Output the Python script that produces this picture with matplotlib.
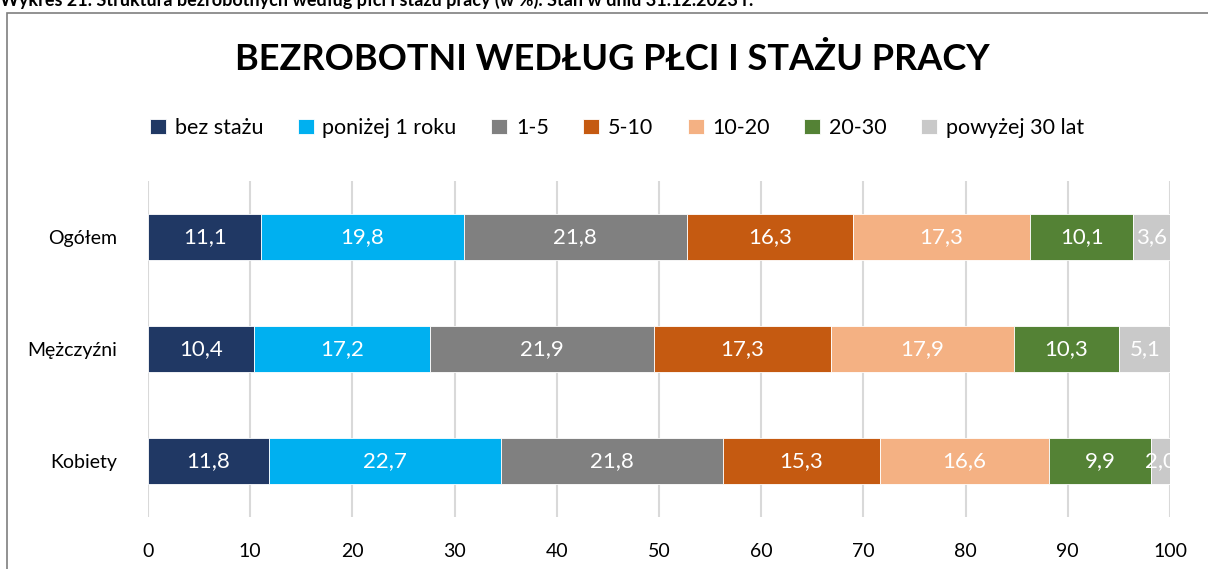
import matplotlib
matplotlib.use("Agg")
import matplotlib.pyplot as plt
from matplotlib.patches import Rectangle
import numpy as np

plt.rcParams['font.family'] = ['Lato', 'DejaVu Sans']

categories = ["Ogółem", "Mężczyźni", "Kobiety"]
series_names = ["bez stażu", "poniżej 1 roku", "1-5", "5-10", "10-20", "20-30", "powyżej 30 lat"]
bez_stazu = [11.1, 10.4, 11.8]
ponizej_1 = [19.8, 17.2, 22.7]
s1_5 = [21.8, 21.9, 21.8]
s5_10 = [16.3, 17.3, 15.3]
s10_20 = [17.3, 17.9, 16.6]
s20_30 = [10.1, 10.3, 9.9]
powyzej_30 = [3.6, 5.1, 2.0]
x_ticks = [0, 10, 20, 30, 40, 50, 60, 70, 80, 90, 100]

series = [bez_stazu, ponizej_1, s1_5, s5_10, s10_20, s20_30, powyzej_30]
colors = ["#203864", "#00B0F0", "#808080", "#C55A11", "#F4B183", "#548235", "#C9C9C9"]

fig = plt.figure(figsize=(12.08, 5.69), dpi=100)
W, H = 1208, 569
ax = fig.add_axes([148 / W, 1 - 517 / H, (1170 - 148) / W, (517 - 181) / H])

y = np.arange(len(categories))
left = np.zeros(len(categories))
for name, vals, c in zip(series_names, series, colors):
    vals = np.array(vals)
    ax.barh(y, vals, left=left, height=0.41, color=c, label=name,
            edgecolor="white", linewidth=0.6, zorder=3)
    for yi, l, v in zip(y, left, vals):
        ax.text(l + v / 2, yi, f"{v:.1f}".replace(".", ","), ha="center", va="center",
                color="white", fontsize=16, zorder=4, clip_on=True)
    left += vals

ax.set_xlim(0, 100)
ax.set_ylim(2.5, -0.5)
ax.set_xticks(x_ticks)
ax.set_xticklabels([str(v) for v in x_ticks], fontsize=14)
ax.set_yticks(y)
ax.set_yticklabels(categories, fontsize=14)
ax.tick_params(axis="both", length=0, colors="black")
ax.tick_params(axis="x", pad=19)
ax.tick_params(axis="y", pad=22)
ax.grid(axis="x", color="#D9D9D9", linewidth=1.5, zorder=0)
for s in ax.spines.values():
    s.set_visible(False)

fig.text(612 / W, 1 - 60 / H, "BEZROBOTNI WEDŁUG PŁCI I STAŻU PRACY", ha="center", va="center",
         fontsize=26, fontweight="bold", color="black")

handles, labels = ax.get_legend_handles_labels()
fig.legend(handles, labels, loc="center", bbox_to_anchor=(617 / W, 1 - 128 / H), ncol=7,
           frameon=False, fontsize=15.5, handlelength=0.75, handleheight=0.75,
           handletextpad=0.4, columnspacing=1.6)

fig.add_artist(Rectangle((7 / W, -0.05), 1.2, 1 - 13 / H + 0.05, transform=fig.transFigure,
                         fill=False, edgecolor="#7F7F7F", linewidth=1.2))
fig.text(0.0, 1.0, "Wykres 21. Struktura bezrobotnych według płci i stażu pracy (w %). Stan w dniu 31.12.2023 r.",
         ha="left", va="center", fontsize=13, fontweight="bold")

fig.savefig("out.png", dpi=100)
